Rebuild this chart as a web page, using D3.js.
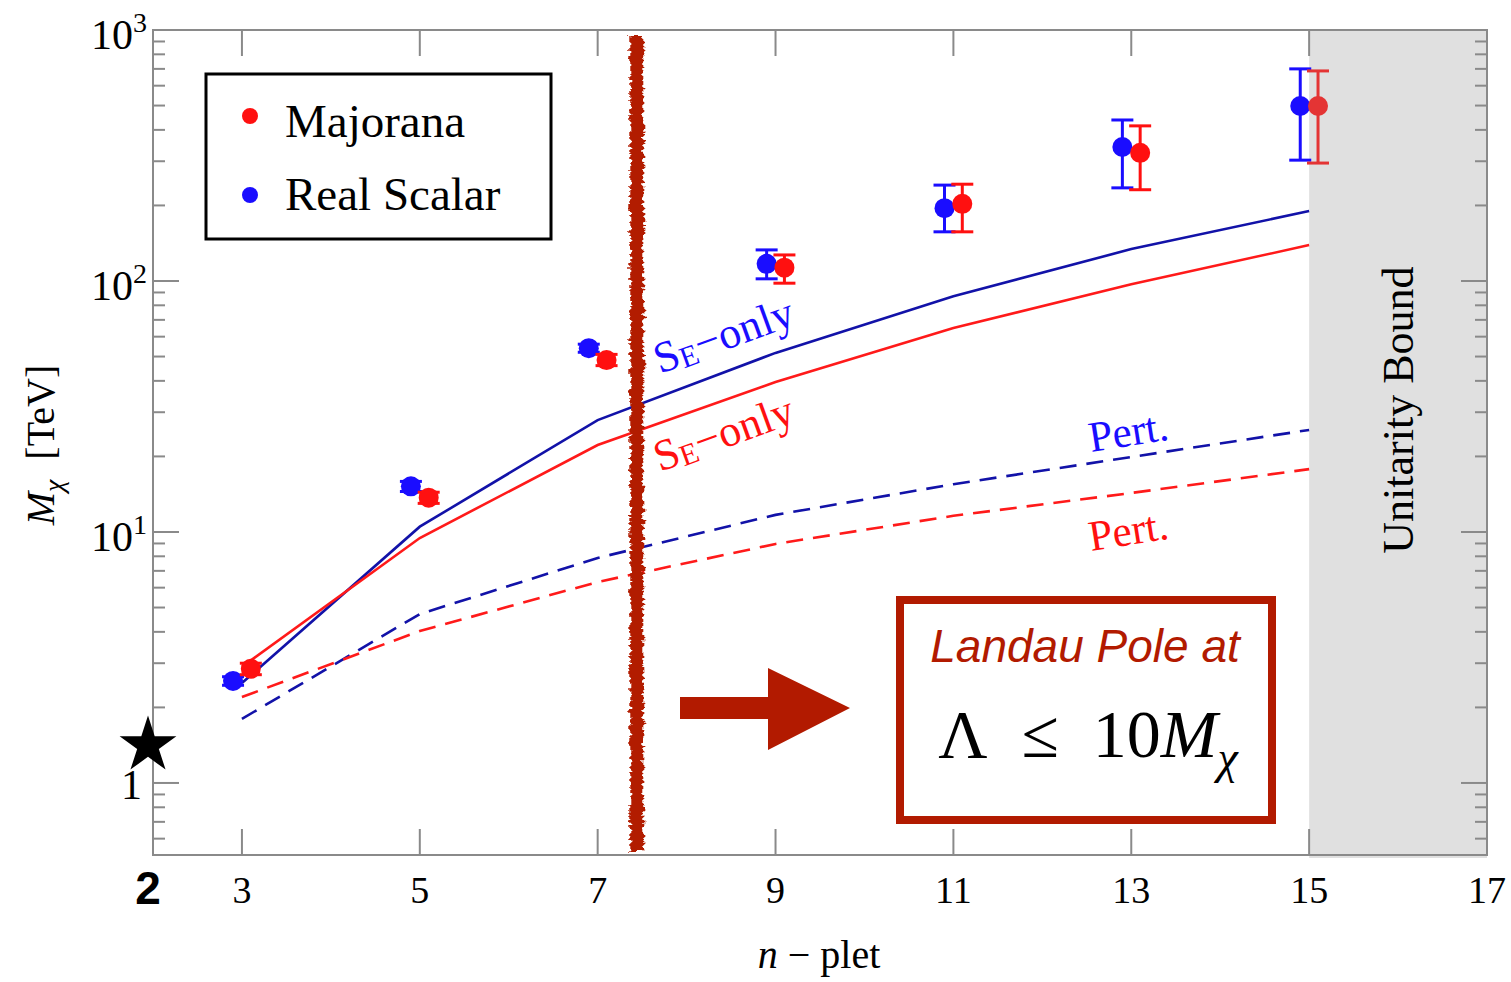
<!DOCTYPE html>
<html>
<head>
<meta charset="utf-8">
<script src="https://cdn.jsdelivr.net/npm/d3@7"></script>
<style>
  body { margin: 0; background: #fff; }
  svg { display: block; font-family: "Liberation Serif", "DejaVu Serif", serif; }
</style>
</head>
<body>
<div id="chart"></div>
<script>
// n-plet values
const nplets = [3, 5, 7, 9, 11, 13, 15];

// point estimates with error bars (TeV)
const majorana = [2.85, 13.7, 48.4, 113, 203, 324, 498];
const majoranaLo = [2.7, 13.0, 46.0, 98, 157, 231, 295];
const majoranaHi = [3.0, 14.4, 51.0, 127, 243, 415, 687];
const scalar = [2.55, 15.2, 54, 117, 195, 342, 498];
const scalarLo = [2.45, 14.5, 52, 102, 157, 235, 303];
const scalarHi = [2.65, 15.9, 56, 133, 241, 438, 700];

// curves
const seOnlyScalar = [2.5, 10.5, 27.9, 51.7, 87, 134, 190];
const seOnlyMajorana = [2.9, 9.46, 22.2, 39.6, 65, 97, 139];
const pertScalar = [1.8, 4.71, 7.88, 11.7, 15.5, 19.9, 25.5];
const pertMajorana = [2.2, 4.03, 6.32, 8.96, 11.6, 14.3, 17.8];

const xTicks = [3, 5, 7, 9, 11, 13, 15, 17];
const yMajor = [1, 10, 100, 1000];
const landauN = 7.44;
const unitarityN = [15, 17];

const W = 1511, H = 982;
const x = d3.scaleLinear().domain([2, 17]).range([153, 1487]);
const y = d3.scaleLog().domain([0.5164, 1000]).range([855, 30]);
const blue = "#1a0dff", red = "#ff1010", navy = "#1212a8", lineRed = "#ff1a1a", brick = "#b21a00";
const sans = "Liberation Sans, Arial, Helvetica, sans-serif";

const svg = d3.select("#chart").append("svg").attr("width", W).attr("height", H);

const defs = svg.append("defs");
const f = defs.append("filter").attr("id", "rough").attr("x", "-50%").attr("y", "-2%").attr("width", "200%").attr("height", "104%");
f.append("feTurbulence").attr("type", "fractalNoise").attr("baseFrequency", "0.12 0.3").attr("numOctaves", 2).attr("seed", 3).attr("result", "noise");
f.append("feDisplacementMap").attr("in", "SourceGraphic").attr("in2", "noise").attr("scale", 9).attr("xChannelSelector", "R").attr("yChannelSelector", "G");

// unitarity region
svg.append("rect")
  .attr("x", x(unitarityN[0])).attr("y", y.range()[1])
  .attr("width", x(unitarityN[1]) - x(unitarityN[0]))
  .attr("height", y.range()[0] - y.range()[1] + 3)
  .attr("fill", "#e0e0e0");

// frame + ticks
const frame = svg.append("g").attr("stroke", "#8a8a8a").attr("stroke-width", 2).attr("fill", "none");
frame.append("rect").attr("x", x(2)).attr("y", y(1000)).attr("width", x(17) - x(2)).attr("height", y.range()[0] - y(1000));

const xt = xTicks.filter(d => d < 17);
frame.selectAll(".xb").data(xt).join("line")
  .attr("x1", d => x(d)).attr("x2", d => x(d)).attr("y1", y.range()[0]).attr("y2", y.range()[0] - 26);
frame.selectAll(".xt").data(xt).join("line")
  .attr("x1", d => x(d)).attr("x2", d => x(d)).attr("y1", y(1000)).attr("y2", y(1000) + 26);

const minor = [];
[0.1, 1, 10, 100].forEach(dec => d3.range(2, 10).forEach(k => {
  const v = dec * k;
  if (v >= y.domain()[0] && v < 1000) minor.push(v);
}));
[x(2), x(17)].forEach((x0, i) => {
  const dir = i === 0 ? 1 : -1;
  frame.append("g").selectAll("line").data(yMajor.filter(d => d < 1000)).join("line")
    .attr("x1", x0).attr("x2", x0 + dir * 26).attr("y1", d => y(d)).attr("y2", d => y(d));
  frame.append("g").selectAll("line").data(minor).join("line")
    .attr("x1", x0).attr("x2", x0 + dir * 12).attr("y1", d => y(d)).attr("y2", d => y(d));
});

// tick labels
svg.append("g").selectAll("text").data(xTicks).join("text")
  .attr("x", d => x(d)).attr("y", 903).attr("text-anchor", "middle")
  .attr("font-size", 38).text(d => d);
svg.append("text").attr("x", x(2) - 5).attr("y", 904).attr("text-anchor", "middle")
  .style("font-family", sans).attr("font-weight", "bold")
  .attr("font-size", 46).text("2");

const yl = svg.append("g").selectAll("text").data(yMajor).join("text")
  .attr("x", d => d === 1 ? 142 : 147).attr("y", d => y(d) + (d === 1 ? 16 : 19))
  .attr("text-anchor", "end").attr("font-size", 42);
yl.filter(d => d === 1).text("1");
yl.filter(d => d > 1).each(function(d) {
  const t = d3.select(this);
  t.append("tspan").text("10");
  t.append("tspan").attr("font-size", 28).attr("dy", -17).text(Math.round(Math.log10(d)));
});

// star at n=2
svg.append("path")
  .attr("d", d3.symbol().type(d3.symbolStar).size(1000))
  .attr("transform", `translate(${x(2) - 5},${y(1.45) + 3})`)
  .attr("fill", "#000");

// axis titles
const xl = svg.append("text").attr("x", (x(2) + x(17)) / 2 - 1).attr("y", 968)
  .attr("text-anchor", "middle").attr("font-size", 40);
xl.append("tspan").attr("font-style", "italic").text("n");
xl.append("tspan").text(" \u2212 plet");

const ylab = svg.append("text").attr("transform", `translate(54,445) rotate(-90)`)
  .attr("text-anchor", "middle").attr("font-size", 40);
ylab.append("tspan").attr("font-style", "italic").text("M");
ylab.append("tspan").attr("font-style", "italic").attr("font-size", 28).attr("dy", 9).text("\u03c7");
ylab.append("tspan").attr("dy", -9).text("\u2002[TeV]");

// curves
const line = d3.line().x((d, i) => x(nplets[i])).y(d => y(d));
const curves = [
  { v: seOnlyScalar, c: navy, dash: null },
  { v: seOnlyMajorana, c: lineRed, dash: null },
  { v: pertScalar, c: navy, dash: "17,10" },
  { v: pertMajorana, c: lineRed, dash: "17,10" }
];
svg.append("g").selectAll("path").data(curves).join("path")
  .attr("d", d => line(d.v)).attr("fill", "none")
  .attr("stroke", d => d.c).attr("stroke-width", 2.6)
  .attr("stroke-dasharray", d => d.dash);

// curve labels
function seLabel(px, py, col) {
  const t = svg.append("text").attr("transform", `translate(${px},${py}) rotate(-20)`)
    .attr("fill", col).attr("font-size", 44);
  t.append("tspan").text("S");
  t.append("tspan").attr("font-size", 30).attr("dy", 3).text("E");
  t.append("tspan").attr("dy", -3).text("\u2212only");
}
seLabel(660, 374, blue);
seLabel(660, 472, red);
svg.append("text").attr("transform", "translate(1091,452) rotate(-9)").attr("fill", blue).attr("font-size", 43).text("Pert.");
svg.append("text").attr("transform", "translate(1091,551) rotate(-9)").attr("fill", red).attr("font-size", 43).text("Pert.");

// Landau pole band
svg.append("rect")
  .attr("x", x(landauN) - 6.5).attr("y", y(1000) + 6)
  .attr("width", 13).attr("height", y.range()[0] - y(1000) - 10)
  .attr("fill", brick).attr("filter", "url(#rough)");

// error bars + points
function points(vals, lo, hi, off, col) {
  const g = svg.append("g").attr("stroke", col).attr("stroke-width", 3).attr("fill", col);
  const cx = i => x(nplets[i] + off);
  vals.forEach((v, i) => {
    const c = nplets[i] + off > 15 ? "#e43434" : col;
    g.append("line").attr("stroke", c).attr("x1", cx(i)).attr("x2", cx(i)).attr("y1", y(lo[i])).attr("y2", y(hi[i]));
    [lo[i], hi[i]].forEach(e => g.append("line").attr("stroke", c)
      .attr("x1", cx(i) - 11).attr("x2", cx(i) + 11).attr("y1", y(e)).attr("y2", y(e)));
    g.append("circle").attr("cx", cx(i)).attr("cy", y(v)).attr("r", 10).attr("stroke", "none").attr("fill", c);
  });
}
points(scalar, scalarLo, scalarHi, -0.1, blue);
points(majorana, majoranaLo, majoranaHi, 0.1, red);

// legend
const lg = svg.append("g");
lg.append("rect").attr("x", 206).attr("y", 74).attr("width", 345).attr("height", 165)
  .attr("fill", "#fff").attr("stroke", "#000").attr("stroke-width", 3);
const legendItems = [["Majorana", red], ["Real Scalar", blue]];
legendItems.forEach(([name, col], i) => {
  lg.append("circle").attr("cx", 250).attr("cy", 116 + i * 79).attr("r", 8).attr("fill", col);
  lg.append("text").attr("x", 285).attr("y", 137 + i * 73).attr("font-size", 47).text(name);
});

// unitarity label
svg.append("text").attr("transform", `translate(${(x(15) + x(17)) / 2 + 15},${y(30.6)}) rotate(-90)`)
  .attr("text-anchor", "middle").attr("font-size", 44).text("Unitarity Bound");

// arrow
const arrow = d3.path();
arrow.moveTo(680, 697); arrow.lineTo(768, 697); arrow.lineTo(768, 668);
arrow.lineTo(850, 708); arrow.lineTo(768, 750); arrow.lineTo(768, 719);
arrow.lineTo(680, 719); arrow.closePath();
svg.append("path").attr("d", arrow.toString()).attr("fill", brick);

// Landau box
svg.append("rect").attr("x", 900).attr("y", 600).attr("width", 372).attr("height", 220)
  .attr("fill", "#fff").attr("stroke", brick).attr("stroke-width", 8);
svg.append("text").attr("x", 1085).attr("y", 662).attr("text-anchor", "middle")
  .style("font-family", sans).attr("font-style", "italic")
  .attr("fill", brick).attr("font-size", 46).text("Landau Pole at");
const lam = svg.append("text").attr("x", 1088).attr("y", 757).attr("text-anchor", "middle").attr("font-size", 68);
lam.append("tspan").text("\u039b\u2002\u2264\u200210");
lam.append("tspan").attr("font-style", "italic").text("M");
lam.append("tspan").attr("font-style", "italic").attr("font-size", 46).attr("dy", 16).text("\u03c7");
</script>
</body>
</html>
